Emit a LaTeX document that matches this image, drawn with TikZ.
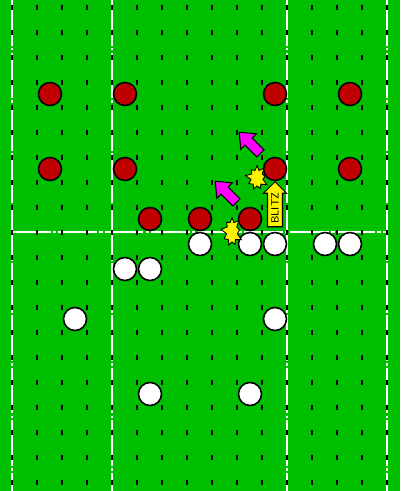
\documentclass[tikz,border=0pt]{standalone}
\usetikzlibrary{shapes.arrows, shapes.symbols}
\definecolor{field}{RGB}{0,190,0}
\definecolor{defred}{RGB}{192,0,0}
\definecolor{runpink}{RGB}{255,0,255}

\begin{document}
\begin{tikzpicture}[
  x=0.02cm, y=-0.02cm,
  player/.style={circle, draw=black, line width=0.9pt, minimum size=0.46cm, inner sep=0pt},
  defender/.style={player, fill=defred},
  offense/.style={player, fill=white},
  yardline/.style={white, line width=0.6pt, dash pattern=on 26pt off 1.2pt on 1.5pt off 1.2pt},
  scrimmage/.style={white, line width=1.1pt, dash pattern=on 22pt off 1.2pt on 2pt off 1.2pt},
  tick/.style={black, line width=0.6pt},
  move/.style={single arrow, draw=black, fill=runpink, line width=0.6pt, rotate=135,
    minimum height=0.6cm, inner xsep=0pt, inner ysep=0.09cm, single arrow head extend=0.12cm,
    single arrow tip angle=80},
  hit/.style={starburst, draw=black, fill=yellow, line width=0.5pt, inner sep=0pt,
    starburst points=9, starburst point height=0.12cm},
  blitzarrow/.style={single arrow, draw=black, fill=yellow, line width=0.6pt, rotate=90,
    minimum height=0.9cm, inner xsep=1pt, inner ysep=1.9pt, single arrow head extend=0.08cm,
    font=\fontsize{6}{7}\selectfont\sffamily}
]
% field
\fill[field] (0,0) rectangle (400,491);
\useasboundingbox (0,0) rectangle (400,491);

% yard lines and line of scrimmage
\foreach \x in {12,112,287,387}
  \draw[yardline] (\x,0) -- (\x,491);
\draw[scrimmage] (12,232) -- (387,232);

% hash marks
\foreach \i in {0,...,15}
  \foreach \j in {0,...,19}
    \draw[tick] (12+25*\i,4.5+25*\j) -- ++(0,5);

% defense
\node[defender] (d1) at (50,94) {};
\node[defender] (d2) at (125,94) {};
\node[defender] (d3) at (275,94) {};
\node[defender] (d4) at (350,94) {};
\node[defender] (d5) at (50,169) {};
\node[defender] (d6) at (125,169) {};
\node[defender] (d7) at (275,169) {};
\node[defender] (d8) at (350,169) {};
\node[defender] (d9) at (150,219) {};
\node[defender] (d10) at (200,219) {};
\node[defender] (d11) at (250,219) {};

% offense
\node[offense] (o1) at (200,244) {};
\node[offense] (o2) at (250,244) {};
\node[offense] (o3) at (275,244) {};
\node[offense] (o4) at (325,244) {};
\node[offense] (o5) at (350,244) {};
\node[offense] (o6) at (125,269) {};
\node[offense] (o7) at (150,269) {};
\node[offense] (o8) at (75,319) {};
\node[offense] (o9) at (275,319) {};
\node[offense] (o10) at (150,394) {};
\node[offense] (o11) at (250,394) {};

% blitz
\node[move] (run1) at (252,145) {};
\node[move] (run2) at (228,194) {};
\node[hit, minimum width=0.48cm, minimum height=0.56cm] (hit1) at (257,178) {};
\node[hit, minimum width=0.46cm, minimum height=0.64cm] (hit2) at (232,232) {};
\node[blitzarrow] (blitz) at (275,208) {BLITZ};

\end{tikzpicture}
\end{document}
